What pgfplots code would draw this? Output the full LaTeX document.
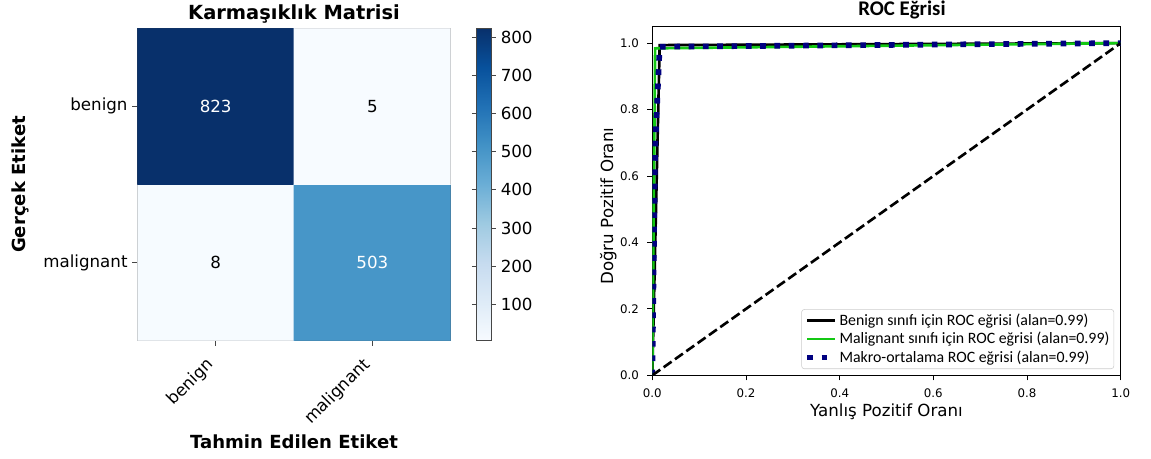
\documentclass[border=0pt]{standalone}
\usepackage{fontspec}
\setmainfont{DejaVu Sans}
\newfontfamily\calibri{Carlito}
\usepackage{pgfplots}
\pgfplotsset{compat=1.18}
\usepackage{pgfplotstable}

\definecolor{rocgreen}{RGB}{20,200,20}
\definecolor{rocnavy}{RGB}{0,0,128}
\definecolor{spine}{RGB}{70,70,70}

% confusion matrix (row 1 = benign, row 0 = malignant)
\pgfplotstableread{
x y c
0 0 8
1 0 503
0 1 823
1 1 5
}\cmdata

% ROC curves
\pgfplotstableread{
fpr tpr
0 0
0.0157 0.9940
1 1
}\rocbenign
\pgfplotstableread{
fpr tpr
0 0
0.0060 0.9843
1 1
}\rocmalignant
\pgfplotstableread{
fpr tpr
0 0
0.0060 0.6830
0.0157 0.9891
1 1
}\rocmacro

\begin{document}
\begin{tikzpicture}
\path[use as bounding box] (0,0) rectangle (828.72pt,-329.76pt);

% ---------------- confusion matrix ----------------
\begin{axis}[
  at={(98.86pt,-245.30pt)}, anchor=south west,
  scale only axis, width=225.65pt, height=224.93pt,
  xmin=-0.5, xmax=1.5, ymin=-0.5, ymax=1.5,
  xtick={0,1}, ytick={0,1},
  xticklabels={benign,malignant}, yticklabels={malignant,benign},
  xtick pos=bottom, ytick pos=left,
  tick align=outside, major tick length=3.5pt,
  every tick/.style={spine, line width=0.6pt},
  axis line style={spine, line width=0.6pt},
  tick label style={font=\fontsize{12}{14}\selectfont},
  xticklabel style={xshift=-1pt, yshift=-9.5pt, rotate=45, anchor=east},
  every axis title shift=0pt,
  title={Karmaşıklık Matrisi},
  title style={at={(0.5,1.045)}, anchor=center, yshift=0pt, font=\fontsize{14}{16}\selectfont\bfseries},
  xlabel={Tahmin Edilen Etiket},
  xlabel style={at={(axis description cs:0.5,-0.324)}, anchor=center, font=\fontsize{13}{15}\selectfont\bfseries},
  ylabel={Gerçek Etiket},
  ylabel style={at={(axis description cs:-0.374,0.5)}, anchor=center, font=\fontsize{13}{15}\selectfont\bfseries},
  colormap={blues}{rgb255=(247,251,255) rgb255=(222,235,247) rgb255=(198,219,239)
    rgb255=(158,202,225) rgb255=(107,174,214) rgb255=(66,146,198) rgb255=(33,113,181)
    rgb255=(8,81,156) rgb255=(8,48,107)},
  point meta min=5, point meta max=823,
  colorbar,
  colorbar style={
    at={(parent axis.north east)}, anchor=north west, xshift=10.18pt,
    width=10.3pt,
    ytick={100,200,300,400,500,600,700,800},
    tick align=outside, major tick length=3.5pt,
    every tick/.style={spine, line width=0.6pt},
    axis line style={spine, line width=0.6pt},
    yticklabel style={font=\fontsize{12}{14}\selectfont, /pgf/number format/assume math mode=true},
  },
]
\addplot[matrix plot*, mesh/cols=2, point meta=explicit] table[x=x, y=y, meta=c] {\cmdata};
\addplot[draw=none, mark=none, point meta=explicit symbolic, nodes near coords,
  nodes near coords align=center,
  every node near coord/.append style={text=white, font=\fontsize{12}{14}\selectfont, anchor=center}]
  table[x=x, y=y, meta=c] {
x y c
0 1 823
1 0 503
};
\addplot[draw=none, mark=none, point meta=explicit symbolic, nodes near coords,
  nodes near coords align=center,
  every node near coord/.append style={text=black, font=\fontsize{12}{14}\selectfont, anchor=center}]
  table[x=x, y=y, meta=c] {
x y c
1 1 5
0 0 8
};
\end{axis}

% ---------------- ROC curves ----------------
\begin{axis}[
  at={(469.66pt,-270.22pt)}, anchor=south west,
  scale only axis, width=337.25pt, height=251.14pt,
  xmin=0, xmax=1, ymin=0, ymax=1.05,
  xtick={0,0.2,0.4,0.6,0.8,1}, ytick={0,0.2,0.4,0.6,0.8,1},
  xtick pos=bottom, ytick pos=left,
  tick align=outside, major tick length=3.6pt,
  axis line style={black, line width=0.8pt},
  every tick/.style={black, line width=0.6pt},
  tick label style={font=\fontsize{8.5}{10}\selectfont,
    /pgf/number format/fixed, /pgf/number format/fixed zerofill,
    /pgf/number format/precision=1, /pgf/number format/assume math mode=true},
  xticklabel style={yshift=-2.5pt},
  yticklabel style={xshift=-2.5pt},
  every axis title shift=0pt,
  title={ROC Eğrisi},
  title style={at={(0.533,1.047)}, anchor=center, yshift=0pt, font=\calibri\bfseries\fontsize{15}{17}\selectfont},
  xlabel={Yanlış Pozitif Oranı},
  xlabel style={at={(axis description cs:0.5,-0.104)}, anchor=center, font=\fontsize{12}{14}\selectfont},
  ylabel={Doğru Pozitif Oranı},
  ylabel style={at={(axis description cs:-0.094,0.485)}, anchor=center, font=\fontsize{12}{14}\selectfont},
  legend style={at={(0.986,0.018)}, anchor=south east,
    font=\calibri\fontsize{11.4}{13}\selectfont,
    draw=black!20, rounded corners=2pt, fill=white, fill opacity=0.8, text opacity=1,
    inner sep=2pt, row sep=1pt, nodes={inner sep=1.2pt}},
  legend cell align=left,
  legend image code/.code={\draw[#1, line cap=butt] (0pt,0pt) -- (20pt,0pt);},
]
\addplot[black, line width=1.9pt] table[x=fpr, y=tpr] {\rocbenign};
\addlegendentry{Benign sınıfı için ROC eğrisi (alan=0.99)}
\addplot[rocgreen, line width=1.9pt] table[x=fpr, y=tpr] {\rocmalignant};
\addlegendentry{Malignant sınıfı için ROC eğrisi (alan=0.99)}
\addplot[rocnavy, line width=4.1pt, dash pattern=on 4.1pt off 6.2pt] table[x=fpr, y=tpr] {\rocmacro};
\addlegendentry{Makro-ortalama ROC eğrisi (alan=0.99)}
\addplot[black, line width=1.9pt, dash pattern=on 7pt off 3pt, forget plot] coordinates {(0,0) (1,1)};
\end{axis}
\end{tikzpicture}
\end{document}
